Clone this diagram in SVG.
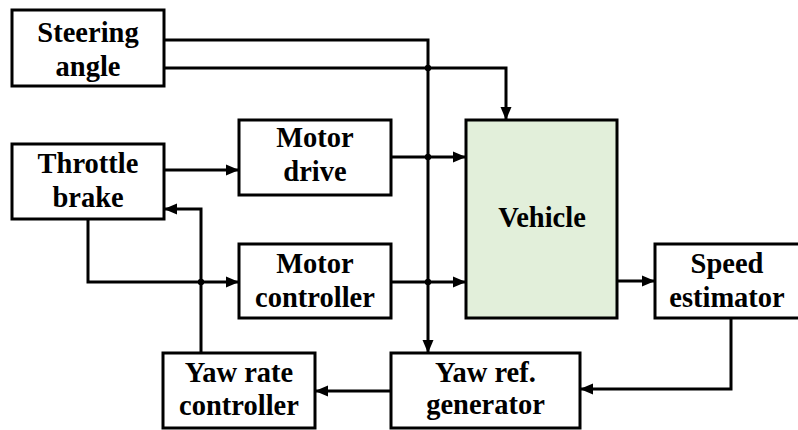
<svg xmlns="http://www.w3.org/2000/svg" width="798" height="430" viewBox="0 0 798 430">
<style>
.box{fill:#fff;stroke:#000;stroke-width:3}
.veh{fill:#e2efda;stroke:#000;stroke-width:3}
.c{fill:none;stroke:#000;stroke-width:3}
.a{marker-end:url(#ah)}
</style>
<defs>
<marker id="ah" markerUnits="userSpaceOnUse" markerWidth="14" markerHeight="12" refX="13" refY="6" orient="auto">
<path d="M0,0.5 L13,6 L0,11.5 Z" fill="#000"/>
</marker>
</defs>
<rect width="798" height="430" fill="#fff"/>
<g id="connectors">
<path class="c a" d="M164,40 H428 V353"/>
<path class="c a" d="M164,68 H506 V120"/>
<path class="c a" d="M164,170 H239"/>
<path class="c a" d="M391,157 H466"/>
<path class="c a" d="M391,282 H466"/>
<path class="c a" d="M88,219 V282 H239"/>
<path class="c a" d="M201,353 V209 H164"/>
<path class="c a" d="M617,281 H655"/>
<path class="c a" d="M731,318 V389 H580"/>
<path class="c a" d="M391,391 H315"/>
<circle cx="428" cy="68" r="3.2" fill="#000"/>
<circle cx="428" cy="157" r="3.2" fill="#000"/>
<circle cx="428" cy="282" r="3.2" fill="#000"/>
<circle cx="201" cy="282" r="3.2" fill="#000"/>
</g>
<g font-family="Liberation Serif, Times New Roman, serif" font-weight="bold" font-size="28.5" text-anchor="middle" fill="#000">
<g id="steering">
<rect class="box" x="12" y="10" width="152" height="76"/>
<text x="88" y="42">Steering</text>
<text x="88" y="76">angle</text>
</g>
<g id="throttle">
<rect class="box" x="12" y="144" width="152" height="75"/>
<text x="88" y="173">Throttle</text>
<text x="88" y="207">brake</text>
</g>
<g id="motor-drive">
<rect class="box" x="239" y="120" width="152" height="75"/>
<text x="315" y="147">Motor</text>
<text x="315" y="181">drive</text>
</g>
<g id="motor-controller">
<rect class="box" x="239" y="244" width="152" height="74"/>
<text x="315" y="273">Motor</text>
<text x="315" y="307">controller</text>
</g>
<g id="vehicle">
<rect class="veh" x="466" y="120" width="151" height="198"/>
<text x="542" y="227">Vehicle</text>
</g>
<g id="speed-estimator">
<rect class="box" x="655" y="244" width="146" height="74"/>
<text x="727" y="273">Speed</text>
<text x="727" y="307">estimator</text>
</g>
<g id="yaw-rate-controller">
<rect class="box" x="163" y="353" width="152" height="75"/>
<text x="239" y="382">Yaw rate</text>
<text x="239" y="415">controller</text>
</g>
<g id="yaw-ref-generator">
<rect class="box" x="391" y="353" width="189" height="75"/>
<text x="485.5" y="382">Yaw ref.</text>
<text x="485.5" y="414">generator</text>
</g>
</g>
</svg>
